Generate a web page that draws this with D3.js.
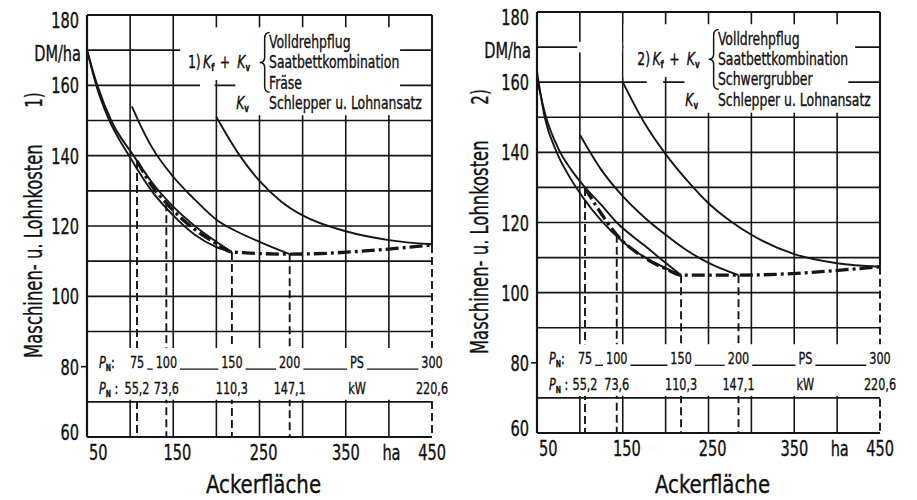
<!DOCTYPE html>
<head>
<meta charset="utf-8">
<script src="https://d3js.org/d3.v7.min.js"></script>
<style>
  body { margin: 0; background: #fff; }
  text { font-family: "DejaVu Sans Condensed", "Liberation Sans Narrow", sans-serif; fill: #111; stroke: #111; stroke-width: 0.35px; }
</style>
</head>
<body>
<div id="chart"></div>
</body>

<script>
// axis values
var xTickVals = [50, 150, 250, 350, 450];
var xGridVals = [100, 150, 200, 250, 300, 350, 400];
var yTickVals = [60, 80, 100, 120, 140, 160, 180];
var yGridVals = [70, 90, 100, 110, 120, 130, 140, 150, 160, 170];

// tractor power rows
var psRow = ["75", "100", "150", "200", "PS", "300"];
var kwRow = ["55,2", "73,6", "110,3", "147,1", "kW", "220,6"];

var leftImplements = ["Volldrehpflug", "Saatbettkombination", "Fräse"];
var rightImplements = ["Volldrehpflug", "Saatbettkombination", "Schwergrubber"];
var tractorText = "Schlepper u. Lohnansatz";

// panel 1) : [ha, DM/ha]
var leftCurveLow = [[50,170],[62,159],[75,150.5],[100,139.5],[125,130],[150,123],[175,117.5],[200,114],[218,112.6]];
var leftCurveHigh = [[50,170],[62,160],[78,150],[104,140],[125,132.5],[150,125.5],[175,120],[200,115.5],[218,112.6]];
var leftCurve200 = [[102,154],[109,150.2],[125,142.5],[150,134],[175,127.5],[200,121.8],[225,118.3],[250,115.5],[285,112]];
var leftCurve300 = [[200,151],[225,140.8],[250,132.8],[275,127],[300,123],[350,118.5],[400,116],[450,114.8]];
var leftEnvelope = [[108,138.5],[125,131.5],[142,126.5],[175,119],[200,115],[218,112.6],[285,112],[450,114.6]];
var leftDrops = [108, 142, 218, 285, 450];

// panel 2)
var rightCurveLow = [[50,163],[59,150],[73,140],[88,133],[104,127],[125,120.5],[150,114.5],[175,110.2],[200,107],[218,105]];
var rightCurveHigh = [[50,161],[60,150.5],[75,141],[90,135],[106,130],[125,125],[143,120],[175,113.5],[200,108.5],[218,105]];
var rightCurve200 = [[100,145],[125,135],[150,127.5],[175,121.5],[200,116.5],[225,112],[250,108.5],[285,105]];
var rightCurve300 = [[150,160],[175,148.5],[200,139.5],[225,132],[250,125.5],[275,120.5],[300,116.5],[350,111],[400,108.4],[450,107.4]];
var rightEnvelope = [[106,129.8],[125,122.5],[143,116.5],[175,110],[200,106.8],[218,105],[285,105],[450,107.4]];
var rightDrops = [106, 143, 218, 285, 450];

var svg = d3.select("#chart").append("svg")
  .attr("width", 917).attr("height", 500)
  .style("background", "#fff");

// narrow lettering like the drawing stencil
function tf(x, y, sx) { return "translate(" + x + "," + y + ") scale(" + (sx || 0.78) + ",1)"; }

function drawPanel(p) {
  var x = d3.scaleLinear().domain([50, 450]).range([p.left, p.right]);
  var y = d3.scaleLinear().domain([60, 180]).range([p.bottom, p.top]);
  var g = svg.append("g");
  var ink = "#151515";

  // grid
  g.append("g").selectAll("line").data(yGridVals).join("line")
    .attr("x1", x(50)).attr("x2", x(450))
    .attr("y1", d => y(d)).attr("y2", d => y(d))
    .attr("stroke", ink).attr("stroke-width", 1.6);
  g.append("g").selectAll("line").data(xGridVals).join("line")
    .attr("x1", d => x(d)).attr("x2", d => x(d))
    .attr("y1", y(180)).attr("y2", y(60))
    .attr("stroke", ink).attr("stroke-width", 1.6);

  // drop lines from the envelope down to the axis
  var envAt = function(ha) { return p.envelope.find(d => d[0] === ha)[1]; };
  g.append("g").selectAll("line").data(p.drops).join("line")
    .attr("x1", d => x(d)).attr("x2", d => x(d))
    .attr("y1", d => y(envAt(d))).attr("y2", y(60))
    .attr("stroke", ink).attr("stroke-width", 1.9)
    .attr("stroke-dasharray", "8,4");

  // white areas behind legend and power rows
  var blanks = p.blanks.concat([[50.5, 452, 70.6, 85.3]]);
  g.append("g").selectAll("rect").data(blanks).join("rect")
    .attr("x", d => x(d[0])).attr("width", d => x(d[1]) - x(d[0]))
    .attr("y", d => y(d[3])).attr("height", d => y(d[2]) - y(d[3]))
    .attr("fill", "#fff");

  // frame
  g.append("line").attr("x1", x(50)).attr("x2", x(450)).attr("y1", y(180)).attr("y2", y(180))
    .attr("stroke", ink).attr("stroke-width", 2);
  g.append("line").attr("x1", x(50)).attr("x2", x(450)).attr("y1", y(60)).attr("y2", y(60))
    .attr("stroke", ink).attr("stroke-width", 2.2);
  g.append("line").attr("x1", x(50)).attr("x2", x(50)).attr("y1", y(180)).attr("y2", y(60))
    .attr("stroke", ink).attr("stroke-width", 2.2);
  var last = p.envelope[p.envelope.length - 1];
  g.append("line").attr("x1", x(450)).attr("x2", x(450)).attr("y1", y(180)).attr("y2", y(last[1]))
    .attr("stroke", ink).attr("stroke-width", 2);
  g.append("line").attr("x1", x(50) - 6).attr("x2", x(50)).attr("y1", y(80)).attr("y2", y(80))
    .attr("stroke", ink).attr("stroke-width", 1.6);

  // cost curves
  var line = d3.line().x(d => x(d[0])).y(d => y(d[1])).curve(d3.curveMonotoneX);
  g.append("g").selectAll("path").data(p.curves).join("path")
    .attr("d", line).attr("fill", "none")
    .attr("stroke", ink).attr("stroke-width", 1.9);
  g.append("path").attr("d", line(p.envelope)).attr("fill", "none")
    .attr("stroke", ink).attr("stroke-width", 3.3)
    .attr("stroke-dasharray", "13,4,3,4");

  // y tick labels
  g.append("g").selectAll("text").data(yTickVals).join("text")
    .attr("transform", d => tf(x(50) - 8, y(d) + 8 + (d === 180 ? 5 : 0) + (d === 60 ? -5 : 0), 0.77))
    .attr("text-anchor", "end").attr("font-size", 21)
    .text(d => d);
  g.append("text").attr("transform", tf(x(50) - 6, y(170) + 11, 0.77))
    .attr("text-anchor", "end").attr("font-size", 21).text("DM/ha");

  // x tick labels
  g.append("g").selectAll("text").data(xTickVals).join("text")
    .attr("transform", d => tf(d === 50 ? x(d) + 2 : x(d) + (d < 300 ? 4 : 0), y(60) + 23, 0.77))
    .attr("text-anchor", d => d === 50 ? "start" : "middle")
    .attr("font-size", 21).text(d => d);
  g.append("text").attr("transform", tf(x(403), y(60) + 23, 0.77))
    .attr("text-anchor", "middle").attr("font-size", 21).text("ha");
  g.append("text").attr("transform", tf((x(50) + x(450)) / 2 + 4, 493, 0.88))
    .attr("text-anchor", "middle").attr("font-size", 25).text("Ackerfläche");

  // y title
  g.append("text")
    .attr("transform", "translate(" + p.titleX + "," + y(82.5) + ") rotate(-90) scale(0.73,1)")
    .attr("font-size", 25).text("Maschinen- u. Lohnkosten");
  g.append("text")
    .attr("transform", "translate(" + p.titleX + "," + y(155.8) + ") rotate(-90) scale(0.73,1)")
    .attr("text-anchor", "middle").attr("font-size", 23).text(p.tag);

  // power rows
  var rowPos = p.drops.slice(0, 4).concat([363, 450]);
  var box = svg.node().getBoundingClientRect();
  [[psRow, 81.3], [kwRow, 73.9]].forEach(function(row) {
    var yy = y(row[1]) + 6;
    var lab = g.append("text").attr("transform", tf(x(50) + 12, yy)).attr("font-size", 16);
    lab.append("tspan").attr("font-style", "italic").text("P");
    lab.append("tspan").attr("font-size", 9).attr("font-weight", "bold").attr("dy", 3).text("N");
    lab.append("tspan").attr("dy", -3).text(row[0] === psRow ? ":" : " :");
    var ts = g.append("g").selectAll("text").data(row[0]).join("text")
      .attr("transform", (d, i) => tf(x(rowPos[i]), yy))
      .attr("text-anchor", "middle").attr("font-size", 16)
      .text(d => d);
    if (row[0] === psRow) {
      var r = ts.nodes().map(n => n.getBoundingClientRect());
      for (var i = 0; i < r.length - 1; i++) {
        g.append("line")
          .attr("x1", r[i].right - box.left + 3).attr("x2", r[i + 1].left - box.left - 3)
          .attr("y1", yy + 1).attr("y2", yy + 1)
          .attr("stroke", ink).attr("stroke-width", 1.3);
      }
    }
  });

  // legend
  var rows = [172.3, 166.5, 160.8, 154.9];
  g.append("g").selectAll("text").data(p.implements).join("text")
    .attr("transform", (d, i) => tf(x(261), y(rows[i]) + 6, 0.79))
    .attr("font-size", 17.5).text(d => d);
  g.append("text").attr("transform", tf(x(261), y(rows[3]) + 6, 0.79))
    .attr("font-size", 17.5).text(tractorText);

  var kv = g.append("text").attr("transform", tf(x(223), y(rows[3]) + 6, 0.79)).attr("font-size", 17.5);
  kv.append("tspan").attr("font-style", "italic").text("K");
  kv.append("tspan").attr("font-size", 10).attr("font-weight", "bold").attr("dy", 3).text("v");

  var kf = g.append("text").attr("transform", tf(x(167), y(rows[1]) + 6, 0.79)).attr("font-size", 17.5);
  kf.append("tspan").text(p.tag);
  kf.append("tspan").attr("dx", 3).attr("font-style", "italic").text("K");
  kf.append("tspan").attr("font-size", 10).attr("font-weight", "bold").attr("dy", 3).text("f");
  kf.append("tspan").attr("dy", -3).attr("dx", 7).text("+");
  kf.append("tspan").attr("dx", 9).attr("font-style", "italic").text("K");
  kf.append("tspan").attr("font-size", 10).attr("font-weight", "bold").attr("dy", 3).text("v");

  // brace
  var bx = x(256), bt = y(175), bb = y(158), bm = (bt + bb) / 2;
  var b = d3.path();
  b.moveTo(bx + 5, bt);
  b.quadraticCurveTo(bx, bt, bx, bt + 6);
  b.lineTo(bx, bm - 5);
  b.quadraticCurveTo(bx, bm, bx - 5, bm);
  b.quadraticCurveTo(bx, bm, bx, bm + 5);
  b.lineTo(bx, bb - 6);
  b.quadraticCurveTo(bx, bb, bx + 5, bb);
  g.append("path").attr("d", b.toString()).attr("fill", "none")
    .attr("stroke", ink).attr("stroke-width", 1.5);
}

drawPanel({
  left: 87, right: 432, top: 15, bottom: 437, titleX: 42, tag: "1)",
  curves: [leftCurveLow, leftCurveHigh, leftCurve200, leftCurve300],
  envelope: leftEnvelope, drops: leftDrops, implements: leftImplements,
  blanks: [[158, 413, 161.5, 176.5], [181, 198, 158, 161.5], [222, 413, 151.5, 161.5]]
});

drawPanel({
  left: 537, right: 880, top: 12, bottom: 433, titleX: 488, tag: "2)",
  curves: [rightCurveLow, rightCurveHigh, rightCurve200, rightCurve300],
  envelope: rightEnvelope, drops: rightDrops, implements: rightImplements,
  blanks: [[151, 421, 161.5, 176.5], [97, 149.3, 168.5, 171.5], [178, 197, 158, 161.5], [222, 413, 151.3, 161.5]]
});
</script>
